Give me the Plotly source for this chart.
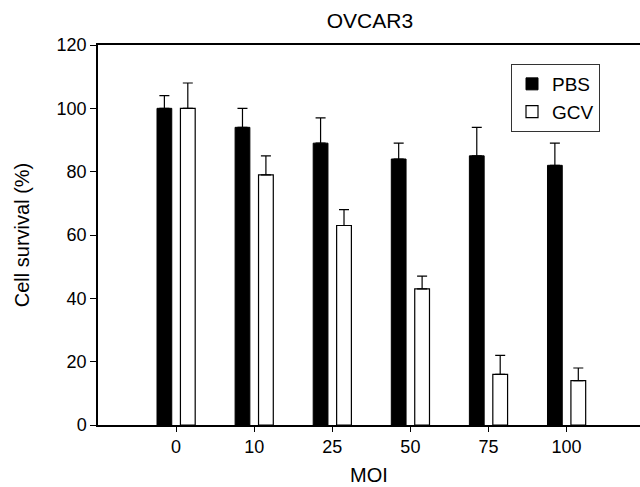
import plotly.graph_objects as go

categories = ["0", "10", "25", "50", "75", "100"]
pbs_values = [100, 94, 89, 84, 85, 82]
pbs_errors = [4, 6, 8, 5, 9, 7]
gcv_values = [100, 79, 63, 43, 16, 14]
gcv_errors = [8, 6, 5, 4, 6, 4]
y_ticks = [0, 20, 40, 60, 80, 100, 120]

xpos = list(range(len(categories)))
FONT = "Liberation Sans, Arial, sans-serif"

fig = go.Figure()
fig.add_trace(go.Bar(
    name="PBS", x=xpos, y=pbs_values,
    marker=dict(color="black", line=dict(color="black", width=1)),
    error_y=dict(type="data", array=pbs_errors, symmetric=False,
                 arrayminus=[0] * len(pbs_errors),
                 color="black", thickness=1.2, width=5),
))
fig.add_trace(go.Bar(
    name="GCV", x=xpos, y=gcv_values,
    marker=dict(color="white", line=dict(color="black", width=1.2)),
    error_y=dict(type="data", array=gcv_errors, symmetric=False,
                 arrayminus=[0] * len(gcv_errors),
                 color="black", thickness=1.2, width=5),
))

fig.update_layout(
    width=640, height=487,
    margin=dict(l=98, r=0, t=45, b=62, autoexpand=False),
    paper_bgcolor="white", plot_bgcolor="white",
    barmode="group", bargap=0.4, bargroupgap=0.37,
    font=dict(family=FONT, size=18, color="black"),
    title=dict(text="OVCAR3", x=0.578, xanchor="center", y=0.958,
               yanchor="middle", font=dict(size=21)),
    legend=dict(x=0.762, y=0.95, xanchor="left", yanchor="top",
                bordercolor="#333", borderwidth=1, bgcolor="white",
                font=dict(size=19), itemwidth=30),
    showlegend=True,
)
fig.update_xaxes(
    range=[-1, 5.94], tickvals=xpos, ticktext=categories,
    showline=True, linecolor="black", linewidth=1.5, mirror=True,
    ticks="outside", ticklen=5, tickcolor="black", tickwidth=1,
    showgrid=False, zeroline=False, automargin=False,
    title=dict(text="MOI", font=dict(size=20), standoff=12),
)
fig.update_yaxes(
    range=[0, 120], tickvals=y_ticks,
    showline=True, linecolor="black", linewidth=1.5,
    ticks="outside", ticklen=6, tickcolor="black", tickwidth=1,
    showgrid=False, zeroline=False, automargin=False,
    title=dict(text="Cell survival (%)", font=dict(size=20), standoff=22),
)

fig.write_html(
    "out.html",
    config={"displayModeBar": False},
    post_script="document.body.style.margin='0';document.body.style.overflow='hidden';",
)
